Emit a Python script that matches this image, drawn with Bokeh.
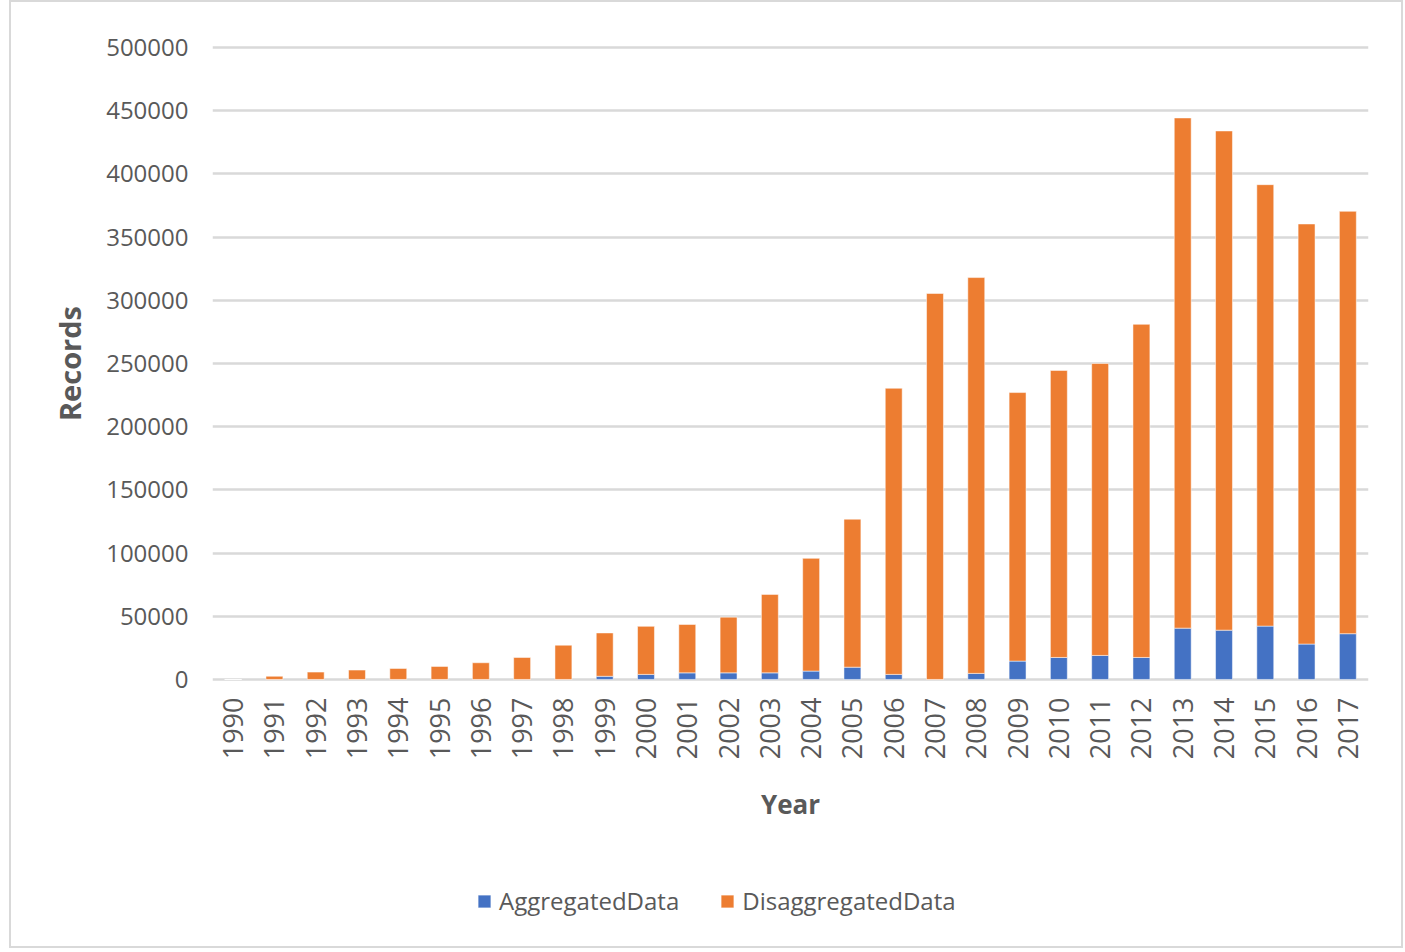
import math
from bokeh.plotting import figure
from bokeh.layouts import column
from bokeh.models import (Range1d, FactorRange, FixedTicker, NumeralTickFormatter,
                          Legend, LegendItem)
from bokeh.embed import file_html
from bokeh.resources import INLINE

years = [str(y) for y in range(1990, 2018)]
aggregated = [0, 0, 0, 0, 0, 0, 0, 0, 0, 2500, 4000, 5200, 5200, 5200, 6600, 9700,
              4000, 0, 4800, 14500, 17400, 19000, 17400, 40600, 39000, 42200, 28000, 36200]
disaggregated = [0, 2500, 5800, 7400, 8700, 10300, 13200, 17400, 27100, 34300, 38000,
                 38300, 44100, 62100, 89200, 117100, 226400, 305400, 313200, 212500,
                 227100, 231000, 263600, 403700, 395000, 349300, 332400, 334200]
y_ticks = list(range(0, 500001, 50000))

series = ["AggregatedData", "DisaggregatedData"]
colors = ["#4472C4", "#ED7D31"]

FONT = "Open Sans"
TXT = "#595959"

data = {"years": years, "AggregatedData": aggregated, "DisaggregatedData": disaggregated}

p = figure(x_range=FactorRange(*years, range_padding=0),
           y_range=Range1d(-4000, 504000),
           width=1390, height=832, output_backend="svg", toolbar_location=None,
           min_border_left=201, min_border_right=33, min_border_top=40,
           min_border_bottom=150)

rs = p.vbar_stack(series, x="years", width=0.41, color=colors, source=data,
                  line_color="white", line_width=1, line_alpha=0.5)

p.outline_line_color = None
p.xgrid.grid_line_color = None
p.ygrid.grid_line_color = "#d9d9d9"
p.ygrid.grid_line_width = 2.5

p.yaxis.ticker = FixedTicker(ticks=y_ticks)
p.yaxis.formatter = NumeralTickFormatter(format="0")
for ax in (p.xaxis[0], p.yaxis[0]):
    ax.axis_line_color = None
    ax.major_tick_line_color = None
    ax.minor_tick_line_color = None
    ax.major_tick_out = 0
    ax.major_tick_in = 0
    ax.major_label_text_font = FONT
    ax.major_label_text_color = TXT
    ax.axis_label_text_font = FONT
    ax.axis_label_text_color = TXT
    ax.axis_label_text_font_style = "bold"
    ax.axis_label_text_font_size = "26px"

p.yaxis.major_label_text_font_size = "24px"
p.yaxis.major_label_standoff = 24
p.yaxis.axis_label = "Records"
p.yaxis.axis_label_text_font_size = "29px"
p.yaxis.axis_label_standoff = 14

p.xaxis.major_label_text_font_size = "27px"
p.xaxis.major_label_orientation = math.pi / 2
p.xaxis.major_label_standoff = 13
p.xaxis.axis_label = "Year"
p.xaxis.axis_label_standoff = 24

# legend strip below the chart
pl = figure(x_range=FactorRange(*years), y_range=Range1d(0, 1),
            width=1390, height=112, output_backend="svg", toolbar_location=None,
            x_axis_location=None, y_axis_location=None,
            min_border=0, outline_line_color=None)
pl.xgrid.grid_line_color = None
pl.ygrid.grid_line_color = None
lrs = pl.vbar_stack(series, x="years", width=0.41, color=colors, source=data,
                    line_color="white", line_width=1, line_alpha=0.5)
for r in lrs:
    r.visible = False

legend = Legend(items=[LegendItem(label=s, renderers=[r]) for s, r in zip(series, lrs)],
                orientation="horizontal", location=(264, 29),
                padding=0, margin=0, spacing=40, label_standoff=7,
                glyph_width=16, glyph_height=16,
                label_text_font=FONT, label_text_font_size="24px",
                label_text_color=TXT,
                background_fill_alpha=0, border_line_color=None)
pl.add_layout(legend, "center")

layout = column(p, pl, spacing=0,
                styles={"border": "2px solid #d9d9d9", "margin-left": "9px"})

open("out.html", "w").write(file_html(layout, INLINE))
